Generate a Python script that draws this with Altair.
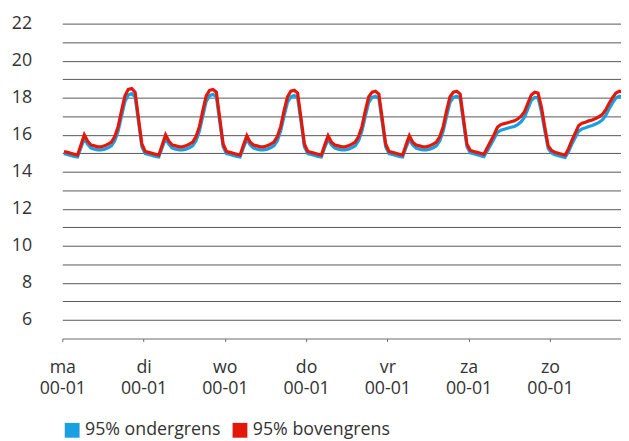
import altair as alt
import pandas as pd
import json

DAYS = ["ma", "di", "wo", "do", "vr", "za", "zo"]
TICK_SUB = "00-01"
SERIES = ["95% ondergrens", "95% bovengrens"]
COLORS = ["#1a9fe0", "#e3170a"]

# hourly values (hour h plotted at h+0.5)
upper_ma = [15.1,15.05,15.0,14.95,14.9,15.45,16.0,15.65,15.45,15.4,15.35,15.35,15.4,15.5,15.6,15.9,16.45,17.3,18.1,18.45,18.5,18.3,16.9,15.5]
upper_di = [15.1,15.05,15.0,14.95,14.9,15.45,16.0,15.65,15.45,15.4,15.35,15.35,15.4,15.5,15.6,15.9,16.45,17.3,18.1,18.4,18.45,18.3,16.9,15.5]
upper_wo = [15.1,15.05,15.0,14.95,14.9,15.45,15.95,15.6,15.45,15.4,15.35,15.35,15.4,15.5,15.6,15.9,16.45,17.3,18.05,18.35,18.4,18.25,16.9,15.5]
upper_do = [15.1,15.05,15.0,14.95,14.9,15.45,15.95,15.6,15.45,15.4,15.35,15.35,15.4,15.5,15.6,15.9,16.45,17.3,18.05,18.3,18.35,18.2,16.85,15.5]
upper_vr = [15.1,15.05,15.0,14.95,14.9,15.45,15.95,15.6,15.45,15.4,15.35,15.35,15.4,15.5,15.6,15.9,16.45,17.3,18.05,18.3,18.35,18.2,16.85,15.5]
upper_za = [15.15,15.1,15.05,15.0,14.95,15.3,15.65,16.0,16.4,16.55,16.6,16.65,16.7,16.75,16.85,17.0,17.25,17.7,18.15,18.3,18.25,17.5,16.4,15.4]
upper_zo = [15.15,15.05,15.0,14.95,14.9,15.25,15.7,16.1,16.5,16.62,16.68,16.75,16.8,16.88,16.97,17.1,17.35,17.7,18.0,18.25,18.35,18.3]

lower_ma = [14.98,14.93,14.88,14.83,14.8,15.3,15.8,15.48,15.28,15.22,15.18,15.18,15.22,15.3,15.4,15.68,16.2,17.0,17.8,18.15,18.22,18.05,16.7,15.35]
lower_di = [14.98,14.93,14.88,14.83,14.8,15.3,15.8,15.48,15.28,15.22,15.18,15.18,15.22,15.3,15.4,15.68,16.2,17.0,17.8,18.1,18.18,18.05,16.7,15.35]
lower_wo = [14.98,14.93,14.88,14.83,14.8,15.3,15.75,15.45,15.28,15.22,15.18,15.18,15.22,15.3,15.4,15.68,16.2,17.0,17.75,18.05,18.12,18.0,16.7,15.35]
lower_do = [14.98,14.93,14.88,14.83,14.8,15.3,15.75,15.45,15.28,15.22,15.18,15.18,15.22,15.3,15.4,15.68,16.2,17.0,17.75,18.02,18.08,17.95,16.65,15.35]
lower_vr = [14.98,14.93,14.88,14.83,14.8,15.3,15.75,15.45,15.28,15.22,15.18,15.18,15.22,15.3,15.4,15.68,16.2,17.0,17.75,18.02,18.08,17.95,16.65,15.35]
lower_za = [15.02,14.97,14.92,14.87,14.82,15.12,15.45,15.78,16.12,16.25,16.3,16.35,16.4,16.45,16.55,16.7,16.95,17.4,17.85,18.02,18.0,17.25,16.2,15.25]
lower_zo = [15.02,14.92,14.87,14.82,14.78,15.08,15.5,15.85,16.2,16.32,16.38,16.45,16.5,16.58,16.67,16.8,17.05,17.4,17.72,17.98,18.08,18.05]

UPPER = [upper_ma, upper_di, upper_wo, upper_do, upper_vr, upper_za, upper_zo]
LOWER = [lower_ma, lower_di, lower_wo, lower_do, lower_vr, lower_za, lower_zo]

rows = []
for name, days in ((SERIES[0], LOWER), (SERIES[1], UPPER)):
    for d, vals in enumerate(days):
        for h, v in enumerate(vals):
            rows.append({"t": d * 24 + h + 0.5, "v": v, "series": name})
df = pd.DataFrame(rows)

FONT = "Open Sans"

x_enc = alt.X(
    "t:Q",
    scale=alt.Scale(domain=[0, 165], nice=False, zero=False),
    axis=alt.Axis(
        values=[i * 24 for i in range(7)],
        labelExpr="[" + json.dumps(DAYS) + "[round(datum.value/24)], '" + TICK_SUB + "']",
        title=None,
        grid=False,
        domainColor="#6b6b6b",
        tickColor="#6b6b6b",
        tickSize=3,
        labelPadding=31,
        labelBaseline="alphabetic",
        labelLineHeight=22,
        labelFontSize=18,
        labelFont=FONT,
        labelColor="#333333",
        labelFlush=False,
    ),
)
y_enc = alt.Y(
    "v:Q",
    scale=alt.Scale(domain=[5, 22], nice=False, zero=False),
    axis=alt.Axis(
        values=list(range(6, 23)),
        labelExpr="datum.value % 2 == 0 ? datum.label : ''",
        title=None,
        domain=False,
        ticks=False,
        grid=True,
        gridColor="#555555",
        gridWidth=1,
        labelPadding=31,
        labelFontSize=18,
        labelFont=FONT,
        labelColor="#333333",
        minExtent=55,
        maxExtent=55,
    ),
)

# stroke scale lists the series in reverse order so that its (hidden) legend
# is not merged with the fill legend below
stroke_enc = alt.Stroke(
    "series:N",
    scale=alt.Scale(domain=SERIES[::-1], range=COLORS[::-1]),
    legend=None,
)

base = alt.Chart(df)
lower_line = base.transform_filter(alt.datum.series == SERIES[0]).mark_line(strokeWidth=3.2, clip=True).encode(
    x=x_enc, y=y_enc, stroke=stroke_enc
)
upper_line = base.transform_filter(alt.datum.series == SERIES[1]).mark_line(strokeWidth=3.2, clip=True).encode(
    x=x_enc, y=y_enc, stroke=stroke_enc
)
legend_layer = base.transform_filter("false").mark_square(filled=True, opacity=1).encode(
    x=x_enc, y=y_enc,
    fill=alt.Fill(
        "series:N", scale=alt.Scale(domain=SERIES, range=COLORS),
        legend=alt.Legend(
            title=None, orient="none", legendX=1, legendY=403, direction="horizontal",
            symbolType="square", symbolSize=225, symbolStrokeWidth=0, symbolOpacity=1,
            labelFontSize=18, labelFont=FONT, labelColor="#333333",
            labelOffset=4, columnPadding=10,
        ),
    ),
)

chart = alt.layer(lower_line, upper_line, legend_layer).properties(
    width=566, height=319,
    autosize=alt.AutoSizeParams(type="none"),
    padding={"left": 55, "top": 13, "right": 0, "bottom": 101},
).configure_view(stroke=None)

chart.save("out.html", embed_options={"renderer": "svg", "actions": False})
